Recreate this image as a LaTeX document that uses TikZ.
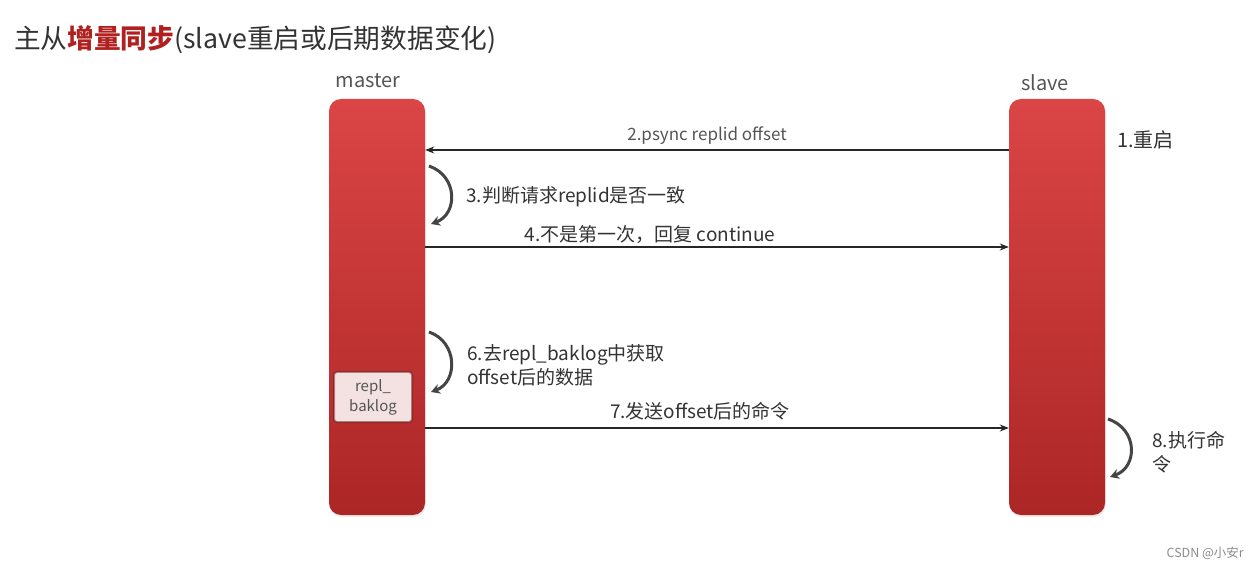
\documentclass[tikz,border=0pt]{standalone}
\usepackage{fontspec}
\setmainfont{Noto Sans CJK SC}
\usetikzlibrary{arrows.meta,shadows}
\definecolor{bartop}{HTML}{DB4545}
\definecolor{barbot}{HTML}{AC2626}
\definecolor{txt}{HTML}{333333}
\definecolor{lbl}{HTML}{555555}
\definecolor{curv}{HTML}{454545}
\definecolor{ttlred}{HTML}{B0201E}
\definecolor{boxfill}{HTML}{F4E2E2}
\tikzset{
  bar/.style={rounded corners=12pt, minimum width=96pt, minimum height=416pt, inner sep=0pt,
    top color=bartop, bottom color=barbot, draw=none, drop shadow={opacity=0.15, shadow xshift=1pt, shadow yshift=-2pt}},
  msg/.style={-{Stealth[length=9pt,width=7pt]}, line width=1.1pt, draw=black!85},
  selfarr/.style={-{Stealth[length=9pt,width=10pt]}, line width=3pt, draw=curv},
  lab/.style={text=txt, font=\fontsize{19}{23}\selectfont, inner sep=0pt},
  actor/.style={text=lbl, font=\fontsize{20}{24}\selectfont, inner sep=0pt}
}
\begin{document}
\begin{tikzpicture}[x=1pt,y=-1pt]
\useasboundingbox (0,0) rectangle (1259,569);
\fill[white] (0,0) rectangle (1259,569);
% title
\node[anchor=west, inner sep=0pt, text=txt, font=\fontsize{26.7}{32}\selectfont] (title) at (14,40)
  {主从{\color{ttlred}\bfseries 增量同步}(slave重启或后期数据变化)};
% actors
\node[actor] (mlab) at (368,81) {master};
\node[actor] (slab) at (1045,83) {slave};
\node[bar] (master) at (377,307) {};
\node[bar] (slave) at (1057,307) {};
% repl_baklog box
\node[rounded corners=3pt, fill=boxfill, draw=barbot!60!black, draw opacity=0.5, line width=2pt,
  minimum width=78pt, minimum height=50pt, inner sep=0pt, align=center, text=lbl,
  font=\fontsize{15}{20}\selectfont] (rb) at (373,397) {repl\_\\baklog};
% y-level coordinates
\coordinate (y2) at (0,150);
\coordinate (y4) at (0,247);
\coordinate (y7) at (0,428);
% message 2
\draw[msg] (slave.west |- y2) -- (master.east |- y2);
\node[lab, text=lbl, font=\fontsize{17}{21}\selectfont] (l2) at (707,136) {2.psync replid offset};
% 1
\node[lab, anchor=west, font=\fontsize{20}{24}\selectfont] (l1) at (1117,140) {1.重启};
% self arrow 3
\coordinate (a3s) at (429,166);
\coordinate (a3e) at (431,224);
\draw[selfarr] (a3s) .. controls (458,176) and (458,214) .. (a3e);
\node[lab, anchor=west] (l3) at (466,197) {3.判断请求replid是否一致};
% message 4
\draw[msg] (master.east |- y4) -- (slave.west |- y4);
\node[lab] (l4) at (650,234) {4.不是第一次，回复 continue};
% self arrow 6
\coordinate (a6s) at (429,332);
\coordinate (a6e) at (431,392);
\draw[selfarr] (a6s) .. controls (458,342) and (458,382) .. (a6e);
\node[lab, anchor=west, align=left, font=\fontsize{19}{24}\selectfont] (l6) at (467,365) {6.去repl\_baklog中获取\\offset后的数据};
% message 7
\draw[msg] (master.east |- y7) -- (slave.west |- y7);
\node[lab] (l7) at (700,411) {7.发送offset后的命令};
% self arrow 8
\coordinate (a8s) at (1108,419);
\coordinate (a8e) at (1110,477);
\draw[selfarr] (a8s) .. controls (1138,429) and (1138,467) .. (a8e);
\node[lab, anchor=west, align=left, font=\fontsize{19}{24}\selectfont] (l8) at (1152,452) {8.执行命\\令};
% watermark
\node[anchor=east, inner sep=0pt, text=black!45, font=\fontsize{12.5}{15}\selectfont] (wm) at (1244,553) {CSDN @小安r};
\end{tikzpicture}
\end{document}
